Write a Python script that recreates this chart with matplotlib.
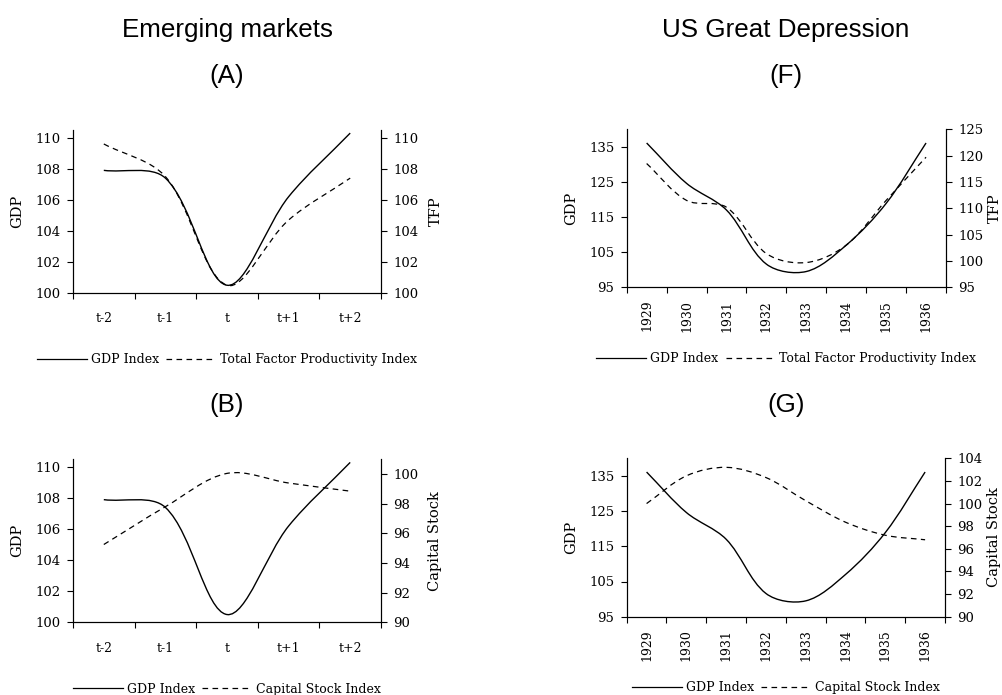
import numpy as np
import matplotlib
matplotlib.use("Agg")
import matplotlib.pyplot as plt
from matplotlib.path import Path
from matplotlib.patches import PathPatch
from matplotlib.lines import Line2D

# emerging markets (A, B)
em_labels = ["t-2", "t-1", "t", "t+1", "t+2"]
em_gdp = [107.9, 107.4, 100.5, 106.2, 110.3]
em_tfp = [109.6, 107.5, 100.5, 104.7, 107.4]
em_capital = [95.25, 97.8, 100.05, 99.4, 98.85]

# US great depression (F, G)
us_labels = ["1929", "1930", "1931", "1932", "1933", "1934", "1935", "1936"]
us_gdp = [136.1, 124.6, 117.0, 101.6, 99.5, 107.0, 118.9, 136.1]
us_tfp = [118.5, 111.5, 110.2, 101.4, 99.7, 103.0, 111.5, 119.7]
us_capital = [100.0, 102.45, 103.2, 102.3, 100.25, 98.35, 97.2, 96.8]

W, H = 1002, 695
plt.rcParams["font.family"] = "DejaVu Serif"
plt.rcParams["font.size"] = 9

fig = plt.figure(figsize=(W / 100, H / 100), dpi=100)


def px_axes(left, top, right, bottom):
    return fig.add_axes([left / W, 1 - bottom / H, (right - left) / W, (bottom - top) / H])


def smooth(ax, y, **kw):
    # spreadsheet style smoothed line: bezier through the points,
    # control arms scaled by the on-screen segment lengths
    x = np.arange(len(y), dtype=float)
    data = np.column_stack([x, np.asarray(y, dtype=float)])
    pts = ax.transData.transform(data)
    n = len(pts)
    verts = [pts[0]]
    codes = [Path.MOVETO]
    for i in range(n - 1):
        p0 = pts[max(i - 1, 0)]
        p1 = pts[i]
        p2 = pts[i + 1]
        p3 = pts[min(i + 2, n - 1)]
        d01 = np.hypot(*(p1 - p0))
        d12 = np.hypot(*(p2 - p1))
        d23 = np.hypot(*(p3 - p2))
        f1 = d12 / (d01 + d12) if d01 + d12 > 0 else 0
        f2 = d12 / (d12 + d23) if d12 + d23 > 0 else 0
        c1 = p1 + (p2 - p0) * f1 / 3
        c2 = p2 - (p3 - p1) * f2 / 3
        verts += [c1, c2, p2]
        codes += [Path.CURVE4] * 3
    verts = ax.transData.inverted().transform(np.array(verts))
    ax.add_patch(PathPatch(Path(verts, codes), fill=False, **kw))


def setup(ax, ax2, labels, ylim, yticks, ylim2, yticks2, ylabel, ylabel2, rotate, xpad, pad2):
    n = len(labels)
    ax.set_xlim(-0.5, n - 0.5)
    ax.set_xticks(np.arange(n + 1) - 0.5)
    ax.set_xticklabels([])
    ax.set_xticks(np.arange(n), minor=True)
    ax.set_xticklabels(labels, minor=True, rotation=90 if rotate else 0)
    ax.tick_params(axis="x", which="minor", length=0, pad=xpad, labelsize=9)
    ax.tick_params(axis="x", which="major", length=4, width=0.8, direction="out")
    ax.set_ylim(*ylim)
    ax.set_yticks(yticks)
    ax.tick_params(axis="y", length=4, width=0.8, pad=5, labelsize=9.5)
    ax.set_ylabel(ylabel, fontsize=10.5, labelpad=8)
    ax2.set_ylim(*ylim2)
    ax2.set_yticks(yticks2)
    ax2.tick_params(axis="y", length=4, width=0.8, pad=5, labelsize=9.5)
    ax2.set_ylabel(ylabel2, fontsize=10.5, labelpad=pad2)
    for a in (ax, ax2):
        a.spines["top"].set_visible(False)
        for s in a.spines.values():
            s.set_linewidth(0.8)


dash = (0, (4.5, 3.5))


def legend(ax, label2, ypos):
    handles = [Line2D([], [], color="black", lw=0.9),
               Line2D([], [], color="black", lw=0.9, linestyle=dash)]
    ax.legend(handles, ["GDP Index", label2], loc="center", bbox_to_anchor=(0.5, ypos),
              ncol=2, frameon=False, handlelength=4, handletextpad=0.3,
              columnspacing=0.6, fontsize=9)


line_kw = dict(edgecolor="black", lw=1.0)
dash_kw = dict(edgecolor="black", lw=0.9, linestyle=dash)

# (A)
axA = px_axes(73, 130, 381, 293)
axA2 = axA.twinx()
setup(axA, axA2, em_labels, (100, 110.5), range(100, 111, 2), (100, 110.5), range(100, 111, 2),
      "GDP", "TFP", False, 14, 7)
smooth(axA, em_gdp, **line_kw)
smooth(axA2, em_tfp, **dash_kw)
legend(axA, "Total Factor Productivity Index", -0.41)

# (F)
axF = px_axes(626.7, 129.3, 946, 287.3)
axF2 = axF.twinx()
setup(axF, axF2, us_labels, (95, 140), range(95, 136, 10), (95, 125), range(95, 126, 5),
      "GDP", "TFP", True, 9, 3)
smooth(axF, us_gdp, **line_kw)
smooth(axF2, us_tfp, **dash_kw)
legend(axF, "Total Factor Productivity Index", -0.45)

# (B)
axB = px_axes(73, 459.3, 381, 622.3)
axB2 = axB.twinx()
setup(axB, axB2, em_labels, (100, 110.5), range(100, 111, 2), (90, 101), range(90, 101, 2),
      "GDP", "Capital Stock", False, 14, 7)
smooth(axB, em_gdp, **line_kw)
smooth(axB2, em_capital, **dash_kw)
legend(axB, "Capital Stock Index", -0.41)

# (G)
axG = px_axes(626.7, 458.3, 945, 616.7)
axG2 = axG.twinx()
setup(axG, axG2, us_labels, (95, 140), range(95, 136, 10), (90, 104), range(90, 105, 2),
      "GDP", "Capital Stock", True, 9, 3)
smooth(axG, us_gdp, **line_kw)
smooth(axG2, us_capital, **dash_kw)
legend(axG, "Capital Stock Index", -0.45)

# titles
title_font = dict(family="Liberation Sans", fontsize=18.7, ha="center", va="baseline")
fig.text(227 / W, 1 - 36.7 / H, "Emerging markets", **title_font)
fig.text(227 / W, 1 - 82.7 / H, "(A)", **title_font)
fig.text(786 / W, 1 - 36.7 / H, "US Great Depression", **title_font)
fig.text(786 / W, 1 - 82.7 / H, "(F)", **title_font)
fig.text(227 / W, 1 - 411.7 / H, "(B)", **title_font)
fig.text(786 / W, 1 - 411.7 / H, "(G)", **title_font)

fig.savefig("out.png", dpi=100)
